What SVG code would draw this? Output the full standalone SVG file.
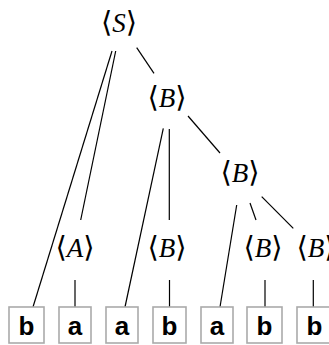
<svg xmlns="http://www.w3.org/2000/svg" width="329" height="345" viewBox="0 0 329 345">
<style>
.lbl{font-family:"Liberation Serif","DejaVu Serif",serif;font-size:27px;fill:#000;text-anchor:middle}
.it{font-style:italic}
.br{font-family:"DejaVu Sans","DejaVu Serif",serif;font-size:29px;font-weight:200}
.box{fill:#fff;stroke:#aaa;stroke-width:1.6}
.term{font-family:"Liberation Sans","DejaVu Sans",sans-serif;font-weight:bold;font-size:26px;fill:#000;text-anchor:middle}
.edge{stroke:#000;stroke-width:1.2;fill:none}
</style>
<rect width="329" height="345" fill="#fff"/>
<g id="connectors">
<line class="edge" x1="112" y1="51" x2="33" y2="307"/>
<line class="edge" x1="115.7" y1="51" x2="80.7" y2="220"/>
<line class="edge" x1="136.7" y1="47.7" x2="154" y2="73.3"/>
<line class="edge" x1="163.3" y1="128.3" x2="125" y2="307"/>
<line class="edge" x1="169.3" y1="129" x2="169.3" y2="220"/>
<line class="edge" x1="188" y1="116" x2="220" y2="153"/>
<line class="edge" x1="236.7" y1="205" x2="220" y2="307"/>
<line class="edge" x1="250" y1="203" x2="256" y2="220"/>
<line class="edge" x1="261.7" y1="196.7" x2="293.3" y2="228.3"/>
<line class="edge" x1="75" y1="280" x2="75" y2="307"/>
<line class="edge" x1="169.5" y1="280" x2="169.5" y2="307"/>
<line class="edge" x1="265" y1="280" x2="265" y2="307"/>
<line class="edge" x1="313.3" y1="280" x2="313.3" y2="307"/>
</g>
<g id="S"><text class="lbl" x="119" y="32"><tspan class="br">⟨</tspan><tspan class="it">S</tspan><tspan class="br">⟩</tspan></text></g>
<g id="B1"><text class="lbl" x="167" y="107"><tspan class="br">⟨</tspan><tspan class="it">B</tspan><tspan class="br">⟩</tspan></text></g>
<g id="B2"><text class="lbl" x="240" y="182"><tspan class="br">⟨</tspan><tspan class="it">B</tspan><tspan class="br">⟩</tspan></text></g>
<g id="A"><text class="lbl" x="75" y="257"><tspan class="br">⟨</tspan><tspan class="it">A</tspan><tspan class="br">⟩</tspan></text></g>
<g id="B1b"><text class="lbl" x="167" y="257"><tspan class="br">⟨</tspan><tspan class="it">B</tspan><tspan class="br">⟩</tspan></text></g>
<g id="B3"><text class="lbl" x="263" y="257"><tspan class="br">⟨</tspan><tspan class="it">B</tspan><tspan class="br">⟩</tspan></text></g>
<g id="B4"><text class="lbl" x="316" y="257"><tspan class="br">⟨</tspan><tspan class="it">B</tspan><tspan class="br">⟩</tspan></text></g>
<g id="t1"><rect class="box" x="9" y="307" width="35" height="36"/><text class="term" x="26.5" y="335">b</text></g>
<g id="t2"><rect class="box" x="59" y="307" width="32" height="36"/><text class="term" x="75" y="335">a</text></g>
<g id="t3"><rect class="box" x="106" y="307" width="32" height="36"/><text class="term" x="122" y="335">a</text></g>
<g id="t4"><rect class="box" x="153" y="307" width="33" height="36"/><text class="term" x="169.5" y="335">b</text></g>
<g id="t5"><rect class="box" x="201" y="307" width="32" height="36"/><text class="term" x="217" y="335">a</text></g>
<g id="t6"><rect class="box" x="247" y="307" width="35" height="36"/><text class="term" x="264.5" y="335">b</text></g>
<g id="t7"><rect class="box" x="297" y="307" width="35" height="36"/><text class="term" x="314.5" y="335">b</text></g>
</svg>
